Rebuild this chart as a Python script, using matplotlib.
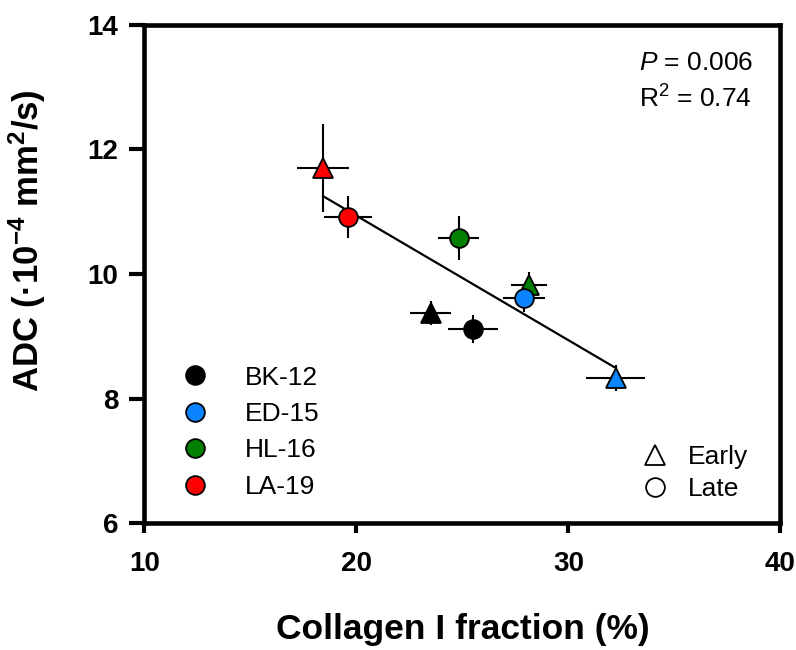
import matplotlib
matplotlib.use('Agg')
import matplotlib.pyplot as plt
from matplotlib.lines import Line2D

plt.rcParams['font.family'] = ['Liberation Sans', 'DejaVu Sans']
plt.rcParams['mathtext.fontset'] = 'custom'
plt.rcParams['mathtext.rm'] = 'Liberation Sans'
plt.rcParams['mathtext.it'] = 'Liberation Sans:italic'
plt.rcParams['mathtext.bf'] = 'Liberation Sans:bold'

# data
groups = ['BK-12', 'ED-15', 'HL-16', 'LA-19']
colors = ['#000000', '#0A84FF', '#007F00', '#FF0000']

collagen_early = [23.51, 32.24, 28.14, 18.42]
adc_early = [9.37, 8.33, 9.82, 11.70]
xerr_early = [0.97, 1.39, 0.87, 1.23]
yerr_early = [0.19, 0.21, 0.21, 0.71]

collagen_late = [25.50, 27.90, 24.83, 19.60]
adc_late = [9.12, 9.61, 10.58, 10.91]
xerr_late = [1.16, 1.01, 0.97, 1.11]
yerr_late = [0.22, 0.22, 0.35, 0.34]

fit_x = [18.42, 32.24]
fit_y = [11.25, 8.49]

fig = plt.figure(figsize=(7.96, 6.5), dpi=100)
ax = fig.add_axes([0.1815, 0.1949, 0.7990, 0.7671])

ax.plot(fit_x, fit_y, color='black', lw=1.6, zorder=1)

for i in range(len(groups)):
    ax.errorbar(collagen_early[i], adc_early[i], xerr=xerr_early[i], yerr=yerr_early[i],
                fmt='none', ecolor='black', elinewidth=1.5, capsize=0, zorder=2)
    ax.errorbar(collagen_late[i], adc_late[i], xerr=xerr_late[i], yerr=yerr_late[i],
                fmt='none', ecolor='black', elinewidth=1.5, capsize=0, zorder=2)
for i in range(len(groups)):
    ax.plot(collagen_early[i], adc_early[i], marker='^', ms=14, color=colors[i],
            mec='black', mew=1.3, ls='none', zorder=3)
for i in range(len(groups)):
    ax.plot(collagen_late[i], adc_late[i], marker='o', ms=13.5, color=colors[i],
            mec='black', mew=1.3, ls='none', zorder=4)

ax.set_xlim(10, 40)
ax.set_ylim(6, 14)
ax.set_xticks([10, 20, 30, 40])
ax.set_yticks([6, 8, 10, 12, 14])
for s in ax.spines.values():
    s.set_linewidth(3.3)
ax.tick_params(axis='x', direction='out', length=7.2, width=3.0, pad=13, labelsize=20)
ax.tick_params(axis='y', direction='out', length=10.8, width=3.0, pad=8, labelsize=20)
for lab in ax.get_xticklabels() + ax.get_yticklabels():
    lab.set_fontweight('bold')

ax.set_xlabel('Collagen I fraction (%)', fontsize=25.5, fontweight='bold', labelpad=26)
ax.set_ylabel(r'ADC (·10$^{\mathbf{-4}}$ mm$^{\mathbf{2}}$/s)', fontsize=25, fontweight='bold')
ax.yaxis.set_label_coords(-0.152, 0.568)

ax.text(0.778, 0.924, r'$\it{P}$ = 0.006', transform=ax.transAxes, fontsize=19,
        ha='left', va='center')
ax.text(0.778, 0.85, r'R$^2$ = 0.74', transform=ax.transAxes, fontsize=19,
        ha='left', va='center')

# group legend
handles = [Line2D([], [], marker='o', ls='none', ms=13.5, color=c, mec='black', mew=1.3)
           for c in colors]
leg1 = ax.legend(handles, groups, loc='lower left', bbox_to_anchor=(0.059, 0.049),
                 frameon=False, fontsize=19, borderpad=0, borderaxespad=0,
                 handlelength=1.0, handletextpad=1.4, labelspacing=0.47)
ax.add_artist(leg1)

# stage legend
stage_handles = [Line2D([], [], marker='^', ls='none', ms=14, mfc='white', mec='black', mew=1.3),
                 Line2D([], [], marker='o', ls='none', ms=13.5, mfc='white', mec='black', mew=1.3)]
ax.legend(stage_handles, ['Early', 'Late'], loc='lower left', bbox_to_anchor=(0.782, 0.045),
          frameon=False, fontsize=19, borderpad=0, borderaxespad=0,
          handlelength=1.0, handletextpad=0.75, labelspacing=0.28)

fig.savefig('out.png', dpi=100)
